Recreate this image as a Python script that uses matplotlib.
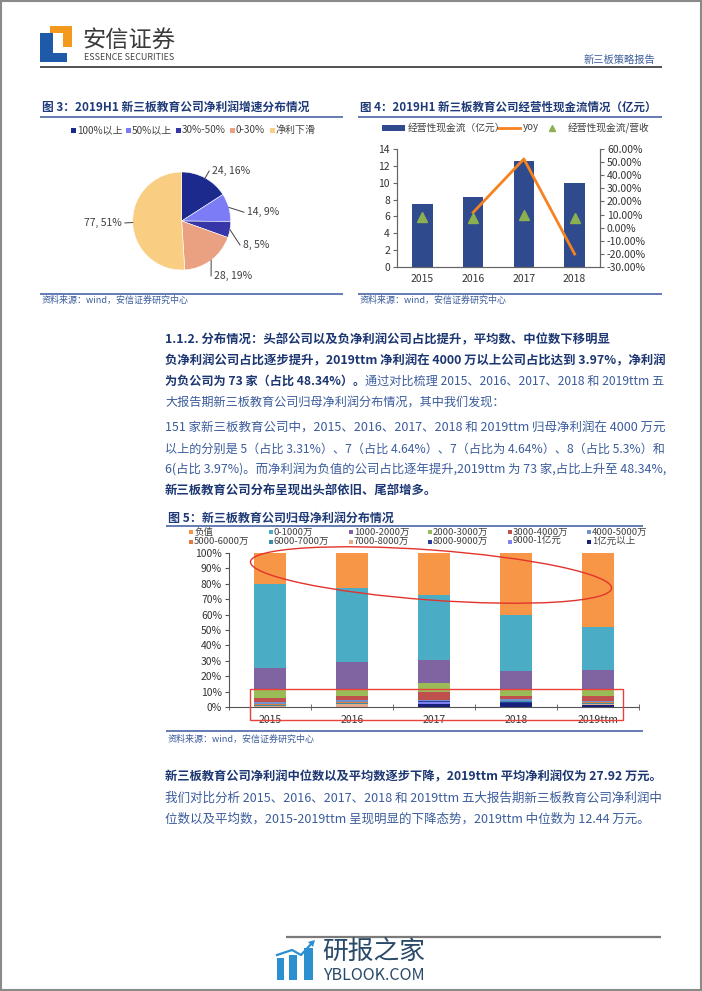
import matplotlib
matplotlib.use('Agg')
import matplotlib.pyplot as plt
from matplotlib.patches import Rectangle, Ellipse, Polygon
from matplotlib.ticker import FuncFormatter
import numpy as np

plt.rcParams['font.family'] = ['Noto Sans CJK SC', 'DejaVu Sans']
plt.rcParams['axes.unicode_minus'] = False

W, H = 702, 991

# ---------------- data ----------------
pie_labels = ['100%以上', '50%以上', '30%-50%', '0-30%', '净利下滑']
pie_counts = [24, 14, 8, 28, 77]

cf_years = ['2015', '2016', '2017', '2018']
cf_values = [7.5, 8.3, 12.6, 10.0]          # 经营性现金流（亿元）
cf_yoy = [0.116, 0.524, -0.201]             # yoy, 2016-2018
cf_ratio = [0.078, 0.075, 0.093, 0.074]     # 经营性现金流/营收

dist_years = ['2015', '2016', '2017', '2018', '2019ttm']
dist_names = ['负值', '0-1000万', '1000-2000万', '2000-3000万', '3000-4000万', '4000-5000万',
              '5000-6000万', '6000-7000万', '7000-8000万', '8000-9000万', '9000-1亿元', '1亿元以上']
cnt_neg = [30, 34, 41, 61, 73]
cnt_0_1000 = [83, 73, 64, 55, 42]
cnt_1000_2000 = [20, 26, 22, 17, 18]
cnt_2000_3000 = [9, 7, 9, 7, 7]
cnt_3000_4000 = [4, 4, 8, 3, 5]
cnt_4000_5000 = [2, 2, 1, 2, 1]
cnt_5000_6000 = [1, 1, 0, 0, 1]
cnt_6000_7000 = [1, 1, 0, 1, 1]
cnt_7000_8000 = [1, 3, 0, 0, 1]
cnt_8000_9000 = [0, 0, 1, 1, 0]
cnt_9000_1yi = [0, 0, 2, 0, 0]
cnt_1yi_plus = [0, 0, 3, 4, 2]

# ---------------- styles ----------------
pie_colors = ['#1B2A8C', '#7C7CF6', '#3636A9', '#EAA181', '#F9CD82']
dist_colors = ['#F79646', '#4BACC6', '#8064A2', '#9BBB59', '#C0504D', '#7391CC',
               '#E07B39', '#3A8FA6', '#E3AA8C', '#2B3F9E', '#8080F2', '#16207A']
TITLE_C = '#1E3A78'
LINE_C = '#4A66A8'
BOLD_C = '#1C3672'
REG_C = '#3B5C9C'
SRC_C = '#3B5C9C'

fig = plt.figure(figsize=(W / 100, H / 100), dpi=100)
fig.patch.set_facecolor('white')


def fbox(x0, y0, x1, y1):
    return [x0 / W, 1 - y1 / H, (x1 - x0) / W, (y1 - y0) / H]


# ---------------- Figure 3: pie ----------------
R = 49.0
cx, cy = 181.7, 221.0
ax3 = fig.add_axes(fbox(cx - R, cy - R, cx + R, cy + R))
wedges, _ = ax3.pie(pie_counts, colors=pie_colors, startangle=90, counterclock=False,
                    radius=1, wedgeprops=dict(linewidth=0.4, edgecolor='white'))
ax3.set_xlim(-1, 1)
ax3.set_ylim(-1, 1)
total = sum(pie_counts)
lab_pos = [(0.62, 1.02, 'left'), (1.33, 0.18, 'left'), (1.25, -0.49, 'left'),
           (0.66, -1.12, 'left'), (-1.22, -0.04, 'right')]
for w, c, (tx, ty, ha) in zip(wedges, pie_counts, lab_pos):
    ang = np.deg2rad((w.theta1 + w.theta2) / 2)
    ex, ey = np.cos(ang), np.sin(ang)
    lx = tx - 0.06 if ha == 'left' else tx + 0.06
    ax3.plot([ex, lx], [ey, ty], color='#404040', lw=0.7, clip_on=False)
    ax3.text(tx, ty, f'{c}, {round(c / total * 100)}%', ha=ha, va='center',
             fontsize=7.5, color='#404040', clip_on=False)

# ---------------- Figure 4: bars + lines ----------------
ax4 = fig.add_axes(fbox(397, 149, 600, 267))
x4 = np.arange(len(cf_years))
ax4.bar(x4, cf_values, width=0.4, color='#2F4B8D', zorder=2)
ax4.set_xlim(-0.5, len(cf_years) - 0.5)
ax4.set_ylim(0, 14)
ax4.set_yticks(range(0, 15, 2))
ax4.set_xticks(x4)
ax4.set_xticklabels(cf_years)
ax4b = ax4.twinx()
ax4b.set_ylim(-0.3, 0.6)
ax4b.set_yticks(np.arange(-0.3, 0.61, 0.1))
ax4b.yaxis.set_major_formatter(FuncFormatter(lambda v, p: f'{round(v * 100, 2) + 0:.2f}%'))
ax4b.plot(x4[1:], cf_yoy, color='#F5821F', lw=2, zorder=3)
ax4b.plot(x4, cf_ratio, ls='none', marker='^', ms=7, color='#8BB050', zorder=4)
for a in (ax4, ax4b):
    a.spines['top'].set_visible(False)
    for s in ('left', 'right', 'bottom'):
        a.spines[s].set_color('#666666')
        a.spines[s].set_linewidth(0.8)
    a.tick_params(axis='y', labelsize=7.5, labelcolor='#333333', color='#666666',
                  length=3, width=0.8, pad=2)
ax4.tick_params(axis='x', length=0, labelsize=7.5, labelcolor='#333333', pad=5)

# ---------------- Figure 5: stacked percentage bars ----------------
ax5 = fig.add_axes(fbox(229, 553, 639, 707))
series = [cnt_neg, cnt_0_1000, cnt_1000_2000, cnt_2000_3000, cnt_3000_4000, cnt_4000_5000,
          cnt_5000_6000, cnt_6000_7000, cnt_7000_8000, cnt_8000_9000, cnt_9000_1yi, cnt_1yi_plus]
tot = np.sum(np.array(series, dtype=float), axis=0)
x5 = np.arange(len(dist_years))
bottom = np.zeros(len(dist_years))
for vals, col in zip(reversed(series), reversed(dist_colors)):
    v = np.array(vals) / tot
    ax5.bar(x5, v, width=0.4, bottom=bottom, color=col, zorder=2)
    bottom += v
ax5.set_xlim(-0.5, len(dist_years) - 0.5)
ax5.set_ylim(0, 1)
ax5.set_yticks(np.arange(0, 1.01, 0.1))
ax5.yaxis.set_major_formatter(FuncFormatter(lambda v, p: f'{int(round(v * 100))}%'))
ax5.set_xticks(x5)
ax5.set_xticklabels(dist_years)
ax5.set_xticks(np.arange(-0.5, len(dist_years)), minor=True)
for s in ('top', 'right'):
    ax5.spines[s].set_visible(False)
for s in ('left', 'bottom'):
    ax5.spines[s].set_color('#555555')
    ax5.spines[s].set_linewidth(0.8)
ax5.tick_params(axis='y', labelsize=7.5, labelcolor='#333333', color='#555555', length=3, pad=2)
ax5.tick_params(axis='x', which='major', length=0, labelsize=7.5, labelcolor='#333333', pad=6)
ax5.tick_params(axis='x', which='minor', direction='inout', length=5, color='#555555')

# ---------------- overlay (pixel coordinates) ----------------
ax0 = fig.add_axes([0, 0, 1, 1], zorder=10)
ax0.set_xlim(0, W)
ax0.set_ylim(H, 0)
ax0.axis('off')
renderer = fig.canvas.get_renderer()


def hline(y, x0, x1, color=LINE_C, lw=1.2):
    ax0.plot([x0, x1], [y, y], color=color, lw=lw, solid_capstyle='butt')


def measure(s, size, weight='normal', family=None):
    kw = {} if family is None else {'family': family}
    t = ax0.text(0, 0, s, fontsize=size, fontweight=weight, **kw)
    w = t.get_window_extent(renderer).width
    t.remove()
    return w


def text_line(x, y, parts, size=9.0, width=None, lo=8.0, hi=9.8):
    ws = [measure(s, size, wt) for s, wt, c in parts]
    sc = 1.0
    if width is not None:
        sc = width / sum(ws)
        sc = min(max(sc, lo / size), hi / size)
    for (s, wt, c), w in zip(parts, ws):
        ax0.text(x, y, s, fontsize=size * sc, fontweight=wt, color=c, ha='left', va='center')
        x += w * sc
    return size * sc


def fit_text(x, y, s, width, size=9, weight='normal', color='k', family=None, ha='left'):
    w = measure(s, size, weight, family)
    kw = {} if family is None else {'family': family}
    ax0.text(x, y, s, fontsize=size * width / w, fontweight=weight, color=color,
             ha=ha, va='center', **kw)


# page border
ax0.add_patch(Rectangle((0.8, 0.8), W - 1.6, H - 1.6, fill=False, edgecolor='#8a8a8a', lw=1.5))

# header
ax0.add_patch(Rectangle((40, 33), 13, 29, color='#1F5AA8', lw=0))
ax0.add_patch(Rectangle((40, 53), 27, 9, color='#1F5AA8', lw=0))
ax0.add_patch(Rectangle((50, 26), 22, 7, color='#F39A1E', lw=0))
ax0.add_patch(Rectangle((63, 26), 9, 21, color='#F39A1E', lw=0))
fit_text(82, 40, '安信证券', 93, size=16, color='#3a3a3a')
fit_text(84, 57.5, 'ESSENCE SECURITIES', 90, size=6.5, color='#444444')
fit_text(584, 60, '新三板策略报告', 72, size=7, color='#3B5C9C')
hline(67, 40, 662, color='#333333', lw=1.2)

# figure 3 header / legend / source
fit_text(42, 107, '图 3：2019H1 新三板教育公司净利润增速分布情况', 266, size=8.5,
         weight='bold', color=TITLE_C)
hline(116.5, 40, 343)
leg3_x = [73, 128, 178, 232, 272]
for lx, lab, col in zip(leg3_x, pie_labels, pie_colors):
    ax0.add_patch(Rectangle((lx - 2.5, 127.5), 5, 5, color=col, lw=0))
    ax0.text(lx + 4, 130, lab, fontsize=7.2, color='#404040', ha='left', va='center')
hline(294, 40, 343)
ax0.text(42, 300.5, '资料来源：wind，安信证券研究中心', fontsize=6.5, color=SRC_C, ha='left', va='center')

# figure 4 header / legend / source
fit_text(360, 107, '图 4：2019H1 新三板教育公司经营性现金流情况（亿元）', 295, size=8.5,
         weight='bold', color=TITLE_C)
hline(116.5, 358, 662)
ax0.add_patch(Rectangle((382, 125), 23, 6, color='#2F4B8D', lw=0))
ax0.text(408, 128, '经营性现金流（亿元）', fontsize=7, color='#404040', ha='left', va='center')
ax0.plot([498, 520], [128, 128], color='#F5821F', lw=2)
ax0.text(523, 127.5, 'yoy', fontsize=7, color='#404040', ha='left', va='center')
ax0.plot([552], [128], marker='^', ms=5, color='#8BB050', ls='none')
ax0.text(568, 128, '经营性现金流/营收', fontsize=7, color='#404040', ha='left', va='center')
hline(294, 358, 662)
ax0.text(360, 300.5, '资料来源：wind，安信证券研究中心', fontsize=6.5, color=SRC_C, ha='left', va='center')

# paragraph 1
fs = text_line(165, 361, [('负净利润公司占比逐步提升，2019ttm 净利润在 4000 万以上公司占比达到 3.97%，净利润', 'bold', BOLD_C)], width=500)
text_line(165, 340, [('1.1.2. 分布情况：头部公司以及负净利润公司占比提升，平均数、中位数下移明显', 'bold', BOLD_C)], size=fs)
fs = text_line(165, 381, [('为负公司为 73 家（占比 48.34%）。', 'bold', BOLD_C),
                          ('通过对比梳理 2015、2016、2017、2018 和 2019ttm 五', 'normal', REG_C)], width=500)
text_line(165, 402, [('大报告期新三板教育公司归母净利润分布情况，其中我们发现：', 'normal', REG_C)], size=fs)

# paragraph 2
text_line(165, 428, [('151 家新三板教育公司中，2015、2016、2017、2018 和 2019ttm 归母净利润在 4000 万元', 'normal', REG_C)], width=500)
text_line(165, 449, [('以上的分别是 5（占比 3.31%）、7（占比 4.64%）、7（占比为 4.64%）、8（占比 5.3%）和', 'normal', REG_C)], width=500)
fs = text_line(165, 470, [('6(占比 3.97%)。而净利润为负值的公司占比逐年提升,2019ttm 为 73 家,占比上升至 48.34%,', 'normal', REG_C)], width=500)
text_line(165, 491, [('新三板教育公司分布呈现出头部依旧、尾部增多。', 'bold', BOLD_C)], size=fs)

# figure 5 header / legend / source
fit_text(168, 518, '图 5：新三板教育公司归母净利润分布情况', 226, size=8.5, weight='bold', color=TITLE_C)
hline(526, 166, 643)
leg5_x = [191, 271, 351, 430, 510, 589]
leg5_y = [532, 541.5]
for i, (lab, col) in enumerate(zip(dist_names, dist_colors)):
    lx = leg5_x[i % 6]
    ly = leg5_y[i // 6]
    ax0.add_patch(Rectangle((lx - 2, ly - 2), 4, 4, color=col, lw=0))
    ax0.text(lx + 3, ly, lab, fontsize=6.8, color='#404040', ha='left', va='center')
hline(731, 166, 643)
ax0.text(168, 739, '资料来源：wind，安信证券研究中心', fontsize=6.5, color=SRC_C, ha='left', va='center')

# red annotation shapes
ax0.add_patch(Ellipse((431, 575), 362, 50, angle=4.2, fill=False, edgecolor='#E2342C', lw=1.0))
ax0.add_patch(Rectangle((250, 689), 373, 31, fill=False, edgecolor='#E8403A', lw=1.0))

# paragraph 3
text_line(165, 777, [('新三板教育公司净利润中位数以及平均数逐步下降，2019ttm 平均净利润仅为 27.92 万元。', 'bold', BOLD_C)], width=498)
fs = text_line(165, 798, [('我们对比分析 2015、2016、2017、2018 和 2019ttm 五大报告期新三板教育公司净利润中', 'normal', REG_C)], width=498)
text_line(165, 819, [('位数以及平均数，2015-2019ttm 呈现明显的下降态势，2019ttm 中位数为 12.44 万元。', 'normal', REG_C)], size=fs)

# footer
hline(937, 286, 661, color='#7a7a7a', lw=1.6)
WM = '#2B8FD0'
ax0.add_patch(Rectangle((277, 958), 6.5, 22, color=WM, lw=0))
ax0.add_patch(Rectangle((288.5, 955), 8, 25, color=WM, lw=0))
ax0.add_patch(Rectangle((303.5, 948), 9.5, 32, color=WM, lw=0))
ax0.plot([277, 292, 301, 312], [955, 950, 955, 943], color=WM, lw=1.6)
ax0.add_patch(Polygon([[308, 942], [315, 940], [313, 947]], color=WM, lw=0))
fit_text(322, 952, '研报之家', 103, size=18, color='#2A4A6A')
fit_text(323, 975, 'YBLOOK.COM', 102, size=9, color='#2A4A6A')

fig.savefig('out.png', dpi=100, facecolor='white')
